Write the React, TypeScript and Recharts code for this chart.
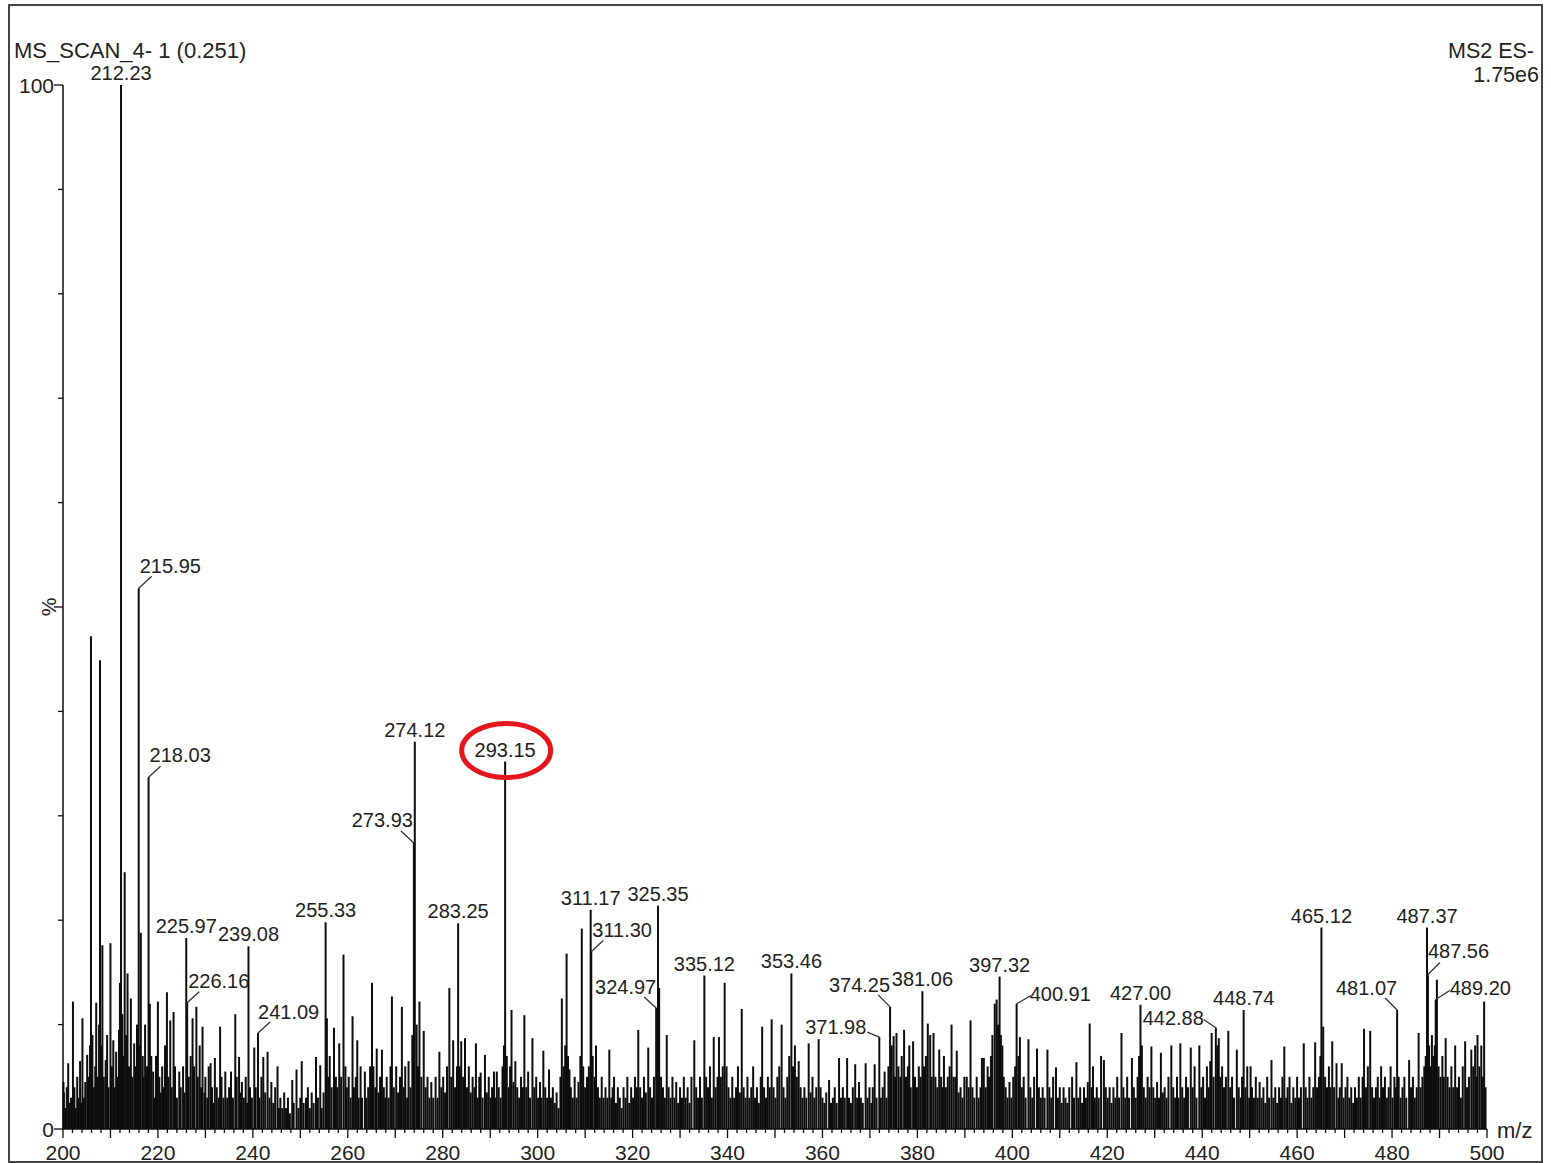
import React from 'react';
import { ComposedChart, Bar, Scatter, XAxis, YAxis } from 'recharts';

const FONT = '"Liberation Sans", Arial, Helvetica, sans-serif';
const INK = '#0d0d0d';

// ---- data ----
const labeledPeaks = [
  { mz: 212.23, pct: 100, label: '212.23' },
  { mz: 215.95, pct: 51.8, label: '215.95' },
  { mz: 218.03, pct: 33.7, label: '218.03' },
  { mz: 225.97, pct: 18.3, label: '225.97' },
  { mz: 226.16, pct: 12.1, label: '226.16' },
  { mz: 239.08, pct: 17.5, label: '239.08' },
  { mz: 241.09, pct: 9.2, label: '241.09' },
  { mz: 255.33, pct: 19.8, label: '255.33' },
  { mz: 273.93, pct: 27.4, label: '273.93' },
  { mz: 274.12, pct: 37.1, label: '274.12' },
  { mz: 283.25, pct: 19.7, label: '283.25' },
  { mz: 293.15, pct: 35.2, label: '293.15' },
  { mz: 311.17, pct: 21.0, label: '311.17' },
  { mz: 311.3, pct: 17.0, label: '311.30' },
  { mz: 324.97, pct: 11.6, label: '324.97' },
  { mz: 325.35, pct: 21.4, label: '325.35' },
  { mz: 335.12, pct: 14.7, label: '335.12' },
  { mz: 353.46, pct: 14.9, label: '353.46' },
  { mz: 371.98, pct: 8.8, label: '371.98' },
  { mz: 374.25, pct: 11.7, label: '374.25' },
  { mz: 381.06, pct: 13.2, label: '381.06' },
  { mz: 397.32, pct: 14.6, label: '397.32' },
  { mz: 400.91, pct: 12.0, label: '400.91' },
  { mz: 427.0, pct: 11.9, label: '427.00' },
  { mz: 442.88, pct: 9.7, label: '442.88' },
  { mz: 448.74, pct: 11.4, label: '448.74' },
  { mz: 465.12, pct: 19.3, label: '465.12' },
  { mz: 481.07, pct: 11.4, label: '481.07' },
  { mz: 487.37, pct: 19.3, label: '487.37' },
  { mz: 487.56, pct: 14.8, label: '487.56' },
  { mz: 489.2, pct: 12.4, label: '489.20' },
];

const peaks200: [number, number][] = [
  [200.1,4.5],[200.2,3.5],[200.5,2],[200.8,4],[201.1,6.3],[201.4,2.5],[201.7,3],[202.1,12.2],[202.4,4],[202.7,2],[203.0,5],[203.3,3],[203.6,6.5],[203.9,2.5],[204.1,10.6],[204.4,3],[204.7,4.5],[205.1,7.1],[205.4,5],[205.7,8],[205.9,47.2],[206.2,9],[206.5,4],[206.8,6],[207.0,12.1],[207.3,5],[207.6,10],[207.8,44.9],[208.0,8],[208.3,17.6],[208.6,5],[209.0,6.6],[209.3,9],[209.6,4],[210.0,17.8],[210.3,6],[210.6,8.5],[210.9,4],[211.2,7.4],[211.5,5],[211.8,9.5],[212.0,14],[212.5,11],[212.7,7],[213.0,24.6],[213.3,9],[213.6,14.9],[213.9,6],[214.3,12.5],[214.6,5],[215.0,8.2],[215.3,6],[215.6,10],[216.2,8],[216.4,18.8],[216.8,7],[217.0,5],[217.3,10],[217.7,6],[218.3,12],[218.6,7],[219.0,5.5],[219.3,3],[219.6,7],[220.0,12.2],[220.3,5],[220.6,3.5],[220.9,6],[221.2,4],[221.5,8],[221.9,13.1],[222.2,5],[222.6,10.4],[222.9,4],[223.3,11.2],[223.6,6],[224.0,3],[224.5,5.5],[224.8,4],[225.3,6],[225.6,3.5],[226.5,5],[226.9,7],[227.3,10.6],[227.6,6],[228.1,11.7],[228.4,5],[228.8,8],[229.1,4],[229.4,9.8],[229.8,3.5],[230.0,5],[230.4,3],[230.7,6],[231.1,6.3],[231.4,4],[231.7,2.5],[232.0,6.8],[232.4,4],[232.8,3],[233.1,9.8],[233.4,5],[233.8,3],[234.2,5.5],[234.6,3],[235.0,4],[235.4,5.5],[235.8,3],[236.3,11],[236.6,5],[237.1,6.9],[237.4,3.5],[237.7,4.5],[238.1,3],[238.5,5],[238.8,2.5],[239.4,4],[239.8,3],[240.3,7.8],[240.6,4],[241.4,3],[241.8,5],[242.2,6.9],[242.6,3.5],[243.1,7.4],[243.5,3],[243.9,4.5],[244.3,2.5],[244.7,4],[245.2,6],[245.5,2],[245.8,3],[246.2,2],[246.6,3.5],[247.0,2],[247.4,3],[247.8,1.5],[248.3,4.7],[248.6,2.5],[249.2,5.7],[249.6,2],
];

const peaks250: [number, number][] = [
  [250.0,3],[250.3,6.5],[250.7,2.5],[251.2,3],[251.6,4],[252.0,2],[252.4,3.5],[252.8,2.5],[253.3,6.9],[253.7,3],[254.2,6.1],[254.5,2],[254.9,3.5],[255.6,10.6],[255.9,5],[256.2,7],[256.6,4],[257.1,9.7],[257.5,5],[257.8,4],[258.2,8.2],[258.6,5],[259.1,16.7],[259.5,6],[259.8,4],[260.2,5],[260.6,3],[261.0,10.8],[261.3,4],[261.7,5],[262.0,8.5],[262.3,3],[262.7,6],[263.0,3],[263.6,5.5],[263.9,3],[264.3,4],[264.7,6],[265.1,14],[265.4,6],[265.8,4],[266.1,7.7],[266.5,3.5],[266.8,5],[267.2,7.6],[267.6,4],[267.9,3],[268.2,5],[268.6,3],[269.0,6],[269.3,12.7],[269.7,4],[270.2,6],[270.6,3.5],[271.0,5],[271.4,11.7],[271.8,4],[272.1,6],[272.5,3],[272.8,6.5],[273.2,4],[273.6,9],[274.5,10],[274.8,6],[275.1,12.2],[275.5,5],[276.0,9.4],[276.4,4],[276.8,5],[277.2,3],[277.6,4.5],[278.0,3],[278.5,5],[278.9,3],[279.3,7.4],[279.7,4],[280.1,5],[280.5,3.5],[280.9,6],[281.4,13.5],[281.8,5],[282.2,8.5],[282.6,4],[283.0,6],[283.6,6],[283.9,8.4],[284.3,5],[284.7,8.7],[285.1,4],[285.5,6],[285.9,3.5],[286.3,5],[286.7,4],[287.0,8.2],[287.4,3],[287.7,5],[288.0,5.4],[288.4,3],[288.9,7.1],[289.3,3.5],[289.7,5],[290.1,3],[290.4,4],[290.8,5.5],[291.1,3],[291.4,5.5],[291.8,4],[292.2,3],[292.6,6],[292.9,8],[293.5,7],[293.9,4],[294.2,6],[294.5,11.4],[294.9,4.5],[295.3,6.5],[295.7,4],[296.1,3],[296.5,5],[296.9,4],[297.2,10.9],[297.6,4],[298.0,5.5],[298.4,3],[298.9,8.7],[299.3,4],[299.7,5],
];

const peaks300: [number, number][] = [
  [300.1,3],[300.5,4.5],[300.8,3],[301.2,7.5],[301.6,4],[302.0,3],[302.4,5.7],[302.8,3],[303.2,4],[303.6,2.5],[304.0,3.5],[304.4,2],[304.8,5],[305.1,12.5],[305.5,6],[305.8,8],[306.1,16.8],[306.4,7],[306.7,5.7],[307.0,4],[307.4,3],[307.8,5],[308.2,3],[308.6,4.5],[309.0,7],[309.3,19.2],[309.6,6],[310.0,4],[310.4,5],[310.8,6],[311.6,7],[312.0,5],[312.3,8],[312.7,4],[313.1,3],[313.5,5],[313.9,3],[314.3,4],[314.7,3],[315.1,7.6],[315.5,3],[315.8,4],[316.1,5],[316.5,2.5],[316.9,4],[317.3,3],[317.7,2],[318.1,4],[318.5,3],[318.9,5],[319.3,2.5],[319.7,4],[320.1,3],[320.5,5],[320.9,4],[321.2,9.5],[321.6,4],[322.0,3],[322.4,5],[322.8,3.5],[323.3,7.8],[323.7,4],[324.1,3],[324.5,5],[325.6,13.5],[326.0,5],[326.4,4],[326.8,3],[327.2,9],[327.6,4],[328.0,3],[328.4,5],[328.8,3],[329.2,4.5],[329.6,2.5],[330.0,4],[330.4,3],[330.8,5],[331.2,3],[331.6,4],[332.0,2.5],[332.4,5],[333.0,8.5],[333.4,4],[333.8,3],[334.2,5],[334.6,3],[335.5,5],[335.9,4],[336.3,6],[336.7,3],[337.1,8.8],[337.5,4],[337.9,5],[338.2,8.8],[338.6,5],[339.0,6],[339.4,14],[339.8,6],[340.2,4],[340.6,3],[341.0,5],[341.4,3],[341.8,4],[342.2,6],[342.6,3.5],[343.0,11.5],[343.4,4],[343.8,3],[344.2,5],[344.6,3],[345.0,4],[345.4,6],[345.8,3],[346.2,4],[346.6,2.5],[347.0,5],[347.3,9.8],[347.7,4],[348.1,3],[348.5,5],[348.9,4],[349.3,10.5],[349.7,4],
];

const peaks350: [number, number][] = [
  [350.1,3],[350.5,5],[350.9,6],[351.4,10],[351.8,4],[352.2,3],[352.6,5],[353.0,7],[353.8,6],[354.2,8],[354.6,5],[355.0,6.5],[355.4,4],[355.8,3],[356.2,4],[356.6,3],[357.1,8.2],[357.5,3.5],[357.9,5],[358.3,3],[358.7,4],[359.2,8.6],[359.6,4],[360.0,3],[360.4,2.5],[360.8,3.5],[361.4,4.7],[361.8,2.5],[362.2,3],[362.6,4],[363.0,2.5],[363.5,6.8],[363.9,3],[364.3,4],[364.7,3],[365.2,6.8],[365.6,3],[366.0,2.5],[366.4,4],[366.9,6.2],[367.3,3],[367.7,4.5],[368.1,3],[368.5,2.5],[369.1,6.3],[369.5,3],[369.9,4],[370.3,2.5],[370.6,4],[371.0,6.2],[371.4,3],[372.3,3],[372.7,4],[373.1,5.5],[373.5,3],[373.9,6],[374.6,8],[375.0,8.9],[375.3,5],[375.6,9.2],[376.0,6],[376.4,5],[376.7,7],[377.2,9.5],[377.6,5],[378.0,6],[378.3,8],[378.6,4],[379.1,8.4],[379.5,5],[379.9,4],[380.3,6],[380.7,5],[381.4,6],[381.8,7],[382.2,10.1],[382.7,9],[383.0,5],[383.4,9.2],[383.8,5],[384.2,4],[384.6,7.6],[385.0,5],[385.3,4],[385.6,7],[386.0,4],[386.4,5],[386.8,6],[387.2,10],[387.6,5],[388.0,5],[388.3,7.5],[388.7,3.5],[389.1,4],[389.5,3],[389.9,5],[390.4,5],[390.8,4],[391.2,10.4],[391.6,4],[392.0,3],[392.5,5],[392.9,3],[393.3,4],[393.6,6.8],[394.0,6.8],[394.4,4],[394.8,6],[395.1,5],[395.5,7],[395.8,9],[396.3,12],[396.7,12.4],[397.0,10],[397.6,9],[397.9,8],[398.2,5],[398.6,4],[399.0,3],[399.4,4.5],[399.8,3],
];

const peaks400: [number, number][] = [
  [400.2,5],[400.6,6],[401.3,7],[401.6,8.8],[402.0,4],[402.4,5],[402.8,3],[403.4,8.6],[403.8,4],[404.2,3],[404.6,5],[405.2,7.7],[405.6,4],[406.0,3],[406.4,4],[406.8,3],[407.4,7.6],[407.8,4],[408.2,3],[408.6,5],[409.2,5.9],[409.6,3],[410.0,4],[410.4,2.5],[410.8,4],[411.2,3],[411.6,2.5],[412.0,4],[412.6,5],[413.0,3],[413.5,6.4],[413.9,3],[414.3,4],[414.7,2.5],[415.1,4],[415.5,3],[415.9,4.5],[416.3,10.1],[416.7,4],[417.0,6],[417.4,3],[417.8,4],[418.2,3],[418.7,7],[419.3,6.6],[419.7,4],[420.1,3],[420.5,4],[420.9,2.5],[421.3,4],[421.7,3],[422.1,5],[422.5,3],[423.0,9.2],[423.4,4],[423.8,3],[424.2,5],[424.6,3],[425.2,6.8],[425.6,4],[426.0,3],[426.4,5],[426.7,7],[427.3,8],[427.7,4],[428.1,3],[428.5,5],[428.9,4],[429.3,7.9],[429.7,4],[430.1,3],[430.5,4.5],[430.9,3],[431.3,7.3],[431.7,3.5],[432.1,4],[432.5,3],[432.9,5],[433.5,8],[433.9,4],[434.3,3],[434.7,5],[435.0,3],[435.4,8.2],[435.8,4],[436.2,3],[436.6,5],[437.0,4],[437.6,7.8],[438.0,4],[438.4,6],[438.8,3],[439.4,8],[439.8,4],[440.2,5],[440.6,3],[441.0,6],[441.4,4],[441.7,6.5],[442.0,9.2],[442.4,5],[443.2,8],[443.5,8.7],[443.8,5],[444.2,6],[444.6,4],[445.0,5],[445.5,9.4],[445.9,4],[446.3,5],[446.7,3],[447.3,7.6],[447.7,4],[448.1,3],[448.4,5],[449.1,4],[449.5,6],[449.9,3],
];

const peaks450: [number, number][] = [
  [450.2,6],[450.5,4],[450.9,3],[451.3,5],[451.7,3],[452.1,4.5],[452.5,3],[452.9,4],[453.3,2.5],[453.7,5],[454.1,3],[454.6,6.6],[455.0,3],[455.4,4],[455.8,2.5],[456.2,4],[456.6,3],[456.9,5],[457.3,7.9],[457.7,3],[458.0,4],[458.4,5],[458.8,2.5],[459.2,4],[459.6,3],[460.0,5],[460.4,3],[460.8,4],[461.4,8.2],[461.8,4],[462.2,3],[462.6,5],[463.0,3],[463.4,4],[463.8,8.3],[464.2,4],[464.6,5],[464.9,7],[465.5,9.8],[465.9,5],[466.3,4],[466.7,6],[467.0,4],[467.4,8.4],[467.8,4],[468.3,6.3],[468.7,3],[469.0,4],[469.4,6.3],[469.8,3],[470.2,4],[470.6,5],[471.0,3],[471.4,4],[471.8,2.5],[472.2,4],[472.6,3],[473.0,5],[473.4,3],[473.8,5],[474.1,9.6],[474.5,4],[474.9,6],[475.4,9.4],[475.8,4],[476.2,3],[476.6,4],[477.0,5],[477.4,3],[477.7,6],[478.1,4],[478.5,5],[478.9,3],[479.3,4],[479.7,6],[480.1,3],[480.5,5],[480.8,4],[481.4,5],[481.8,3],[482.2,4],[482.6,5],[483.0,3],[483.6,6.6],[484.0,4],[484.4,5],[484.8,3],[485.2,4],[485.6,9.2],[486.0,4],[486.4,5],[486.8,6],[487.1,7],[487.8,8],[488.1,6],[488.4,9],[488.7,7],[489.0,8],[489.45,14.3],[489.8,6],[490.2,5],[490.6,7],[490.9,5],[491.3,8.7],[491.7,5],[492.1,4],[492.5,6],[492.9,4],[493.3,8],[493.7,4],[494.1,5],[494.5,3],[494.9,6],[495.4,8.4],[495.8,4],[496.2,5],[496.7,7.6],[497.1,6],[497.5,8],[497.7,5],[498.0,9],[498.4,6],[498.8,8],[499.1,5],[499.4,12.2],[499.7,4],
];

const xTicks: number[] = [];
for (let v = 200; v <= 500; v += 2) xTicks.push(v);
const yTicks = [0, 10, 20, 30, 40, 50, 60, 70, 80, 90, 100];

const spectrum = [
  ...labeledPeaks.map((p) => ({ mz: p.mz, pct: p.pct })),
  ...[...peaks200, ...peaks250, ...peaks300, ...peaks350, ...peaks400, ...peaks450].map(([mz, pct]) => ({ mz, pct })),
].sort((a, b) => a.mz - b.mz);

// ---- label placement (styling only) ----
type Placement = { side: 'top' | 'right' | 'left'; lead?: [number, number]; tx?: number; ty?: number; ring?: boolean };
const placement: Record<string, Placement> = {
  '215.95': { side: 'right', lead: [13, -12], tx: 1, ty: -15 },
  '218.03': { side: 'right', lead: [12, -11], tx: 1, ty: -15 },
  '226.16': { side: 'right', lead: [12, -11], tx: 1, ty: -15 },
  '241.09': { side: 'right', lead: [12, -11], tx: 0, ty: -14 },
  '311.30': { side: 'right', lead: [12, -11], tx: 1, ty: -15 },
  '487.56': { side: 'right', lead: [12, -12], tx: 0, ty: -16 },
  '489.20': { side: 'right', lead: [14, -9], tx: 14, ty: -5 },
  '400.91': { side: 'right', lead: [14, -8], tx: 13, ty: -3 },
  '273.93': { side: 'left', lead: [-13, -12], tx: -1, ty: -16 },
  '324.97': { side: 'left', lead: [-12, -11], tx: 0, ty: -14 },
  '374.25': { side: 'left', lead: [-12, -12], tx: 0, ty: -15 },
  '371.98': { side: 'left', lead: [-12, -5], tx: -13, ty: -3 },
  '442.88': { side: 'left', lead: [-12, -8], tx: -12, ty: -3 },
  '481.07': { side: 'left', lead: [-12, -12], tx: 0, ty: -15 },
  '293.15': { side: 'top', ring: true },
};

// ---- shapes ----
const Stick = (props: any) => {
  const { x, y, width, height } = props;
  if (![x, y, width, height].every((n) => Number.isFinite(n))) return null;
  const cx = x + width / 2;
  return <line x1={cx} x2={cx} y1={y} y2={y + height} stroke={INK} strokeWidth={2} />;
};

const PeakLabel = (props: any) => {
  const { cx, cy, payload } = props;
  if (!Number.isFinite(cx) || !Number.isFinite(cy)) return null;
  const pl = placement[payload.label] || { side: 'top' };
  const textProps = { fontSize: 20, fontFamily: FONT, fill: '#222' };
  if (pl.side === 'top') {
    return (
      <g>
        <text x={cx} y={cy - 5} textAnchor="middle" {...textProps}>{payload.label}</text>
        {pl.ring && (
          <ellipse cx={cx + 1} cy={cy - 11} rx={44.5} ry={27} fill="none" stroke="#e5161d" strokeWidth={5} />
        )}
      </g>
    );
  }
  const [lx, ly] = pl.lead || [0, 0];
  return (
    <g>
      <line x1={cx} y1={cy} x2={cx + lx} y2={cy + ly} stroke="#333" strokeWidth={1.3} />
      <text x={cx + (pl.tx || 0)} y={cy + (pl.ty || 0)} textAnchor={pl.side === 'right' ? 'start' : 'end'} {...textProps}>
        {payload.label}
      </text>
    </g>
  );
};

const XTick = (props: any) => {
  const { x, y, payload } = props;
  const v = payload.value;
  const major = v % 10 === 0;
  const labeled = v % 20 === 0;
  return (
    <g>
      <line x1={x} x2={x} y1={y} y2={y + (major ? 9 : 4)} stroke={INK} strokeWidth={1.3} />
      {labeled && (
        <text x={x} y={y + 31} textAnchor="middle" fontSize={21} fontFamily={FONT} fill="#222">{v}</text>
      )}
    </g>
  );
};

const YTick = (props: any) => {
  const { x, y, payload } = props;
  const v = payload.value;
  const long = v === 0 || v === 100 || v === 50;
  return (
    <g>
      <line x1={x - (long ? 9 : 5)} x2={x} y1={y} y2={y} stroke={INK} strokeWidth={1.3} />
      {(v === 0 || v === 100) && (
        <text x={x - 9} y={y + 8} textAnchor="end" fontSize={21} fontFamily={FONT} fill="#222">{v}</text>
      )}
      {v === 50 && (
        <text x={x - 15} y={y} textAnchor="middle" fontSize={21} fontFamily={FONT} fill="#222"
          transform={`rotate(-90 ${x - 15} ${y})`} dominantBaseline="central">%</text>
      )}
    </g>
  );
};

export default function App() {
  return (
    <div style={{ position: 'relative', width: 1551, height: 1163, overflow: 'hidden', background: '#fff' }}>
      <style>{'body{margin:0;overflow:hidden;background:#fff}'}</style>
      <div style={{ position: 'absolute', left: 0, top: 0 }}>
        <ComposedChart
          width={1551}
          height={1163}
          data={spectrum}
          margin={{ top: 85, right: 64, bottom: 0, left: 0 }}
        >
          <XAxis
            dataKey="mz"
            type="number"
            domain={[200, 500]}
            ticks={xTicks}
            interval={0}
            height={34}
            tickSize={0}
            tickMargin={0}
            tickLine={false}
            axisLine={{ stroke: INK, strokeWidth: 1.5 }}
            tick={<XTick />}
          />
          <YAxis
            type="number"
            domain={[0, 100]}
            ticks={yTicks}
            interval={0}
            width={63}
            tickSize={0}
            tickMargin={0}
            tickLine={false}
            axisLine={{ stroke: INK, strokeWidth: 1.5 }}
            tick={<YTick />}
          />
          <Bar dataKey="pct" barSize={1} shape={<Stick />} isAnimationActive={false} />
          <Scatter data={labeledPeaks} dataKey="pct" shape={<PeakLabel />} isAnimationActive={false} />
        </ComposedChart>
      </div>
      <svg width={1551} height={1163} style={{ position: 'absolute', left: 0, top: 0, pointerEvents: 'none' }}>
        <rect x={9} y={5} width={1533} height={1157} fill="none" stroke="#444" strokeWidth={2} />
        <text x={14} y={58} fontSize={22} fontFamily={FONT} fill="#222">MS_SCAN_4- 1 (0.251)</text>
        <text x={1534} y={58} textAnchor="end" fontSize={21.5} fontFamily={FONT} fill="#222">MS2 ES-</text>
        <text x={1539} y={82} textAnchor="end" fontSize={21.5} fontFamily={FONT} fill="#222">1.75e6</text>
        <text x={1497} y={1138} fontSize={22} fontFamily={FONT} fill="#222">m/z</text>
      </svg>
    </div>
  );
}
